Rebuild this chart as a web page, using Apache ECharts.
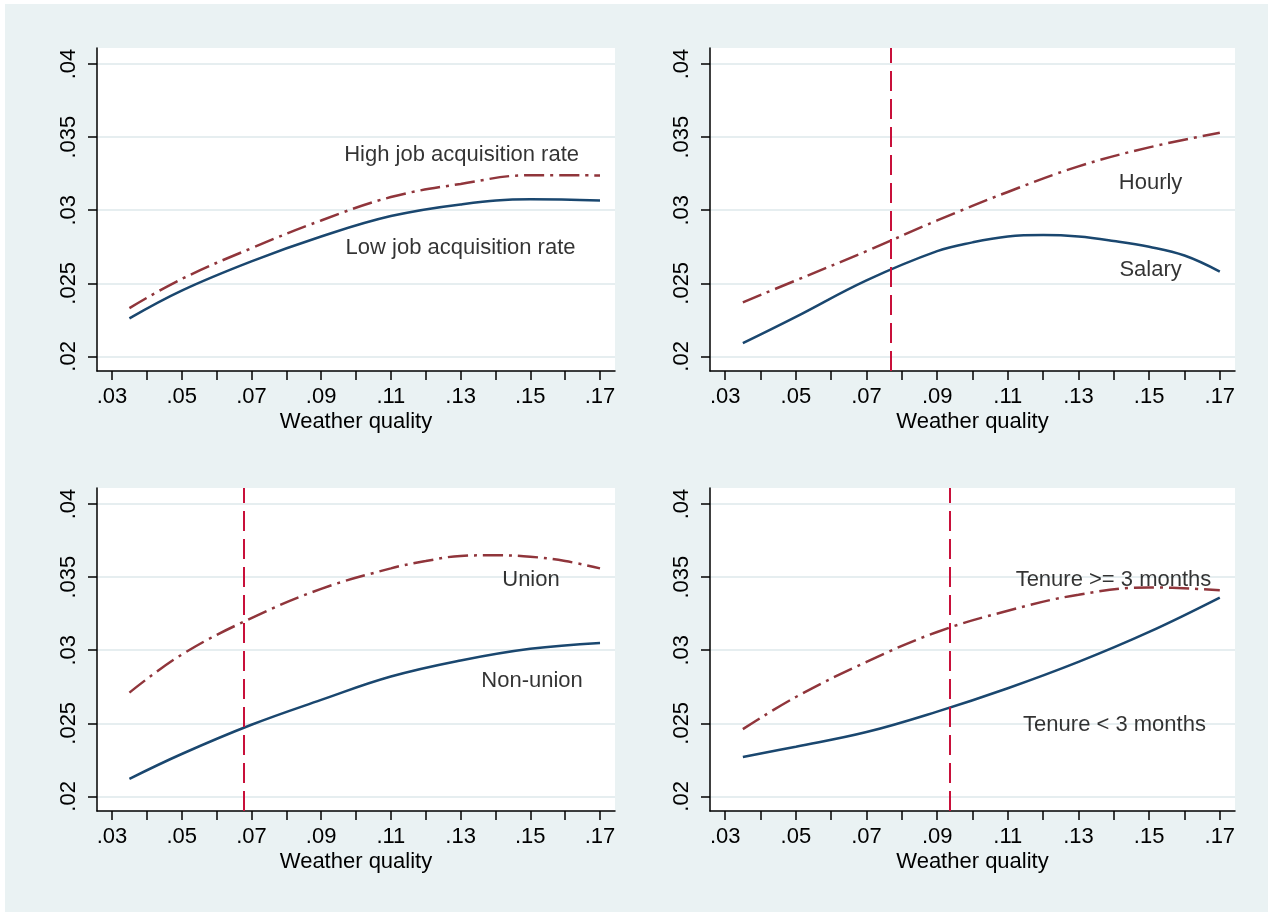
<!DOCTYPE html>
<html>
<head>
<meta charset="utf-8">
<script src="https://cdn.jsdelivr.net/npm/echarts@6/dist/echarts.min.js"></script>
<style>
  html, body { margin: 0; padding: 0; background: #fff; }
  #chart { position: absolute; left: 5px; top: 4px; width: 1263px; height: 908px; }
</style>
</head>
<body>
<div id="chart"></div>
<script>
// x positions where most fitted curves were read
const xVals = [0.035, 0.05, 0.07, 0.09, 0.11, 0.13, 0.15, 0.17];
// finer x positions around the peaks
const salaryX = [0.035, 0.05, 0.07, 0.09, 0.10, 0.11, 0.12, 0.13, 0.14, 0.15, 0.16, 0.17];
const unionX = [0.035, 0.05, 0.07, 0.09, 0.11, 0.12, 0.13, 0.14, 0.15, 0.16, 0.17];

// panel 1: job acquisition rate
const highRate = [0.0233, 0.0253, 0.0274, 0.0293, 0.0309, 0.0318, 0.0324, 0.03238];
const lowRate = [0.0226, 0.0245, 0.0265, 0.0282, 0.0296, 0.0304, 0.03075, 0.03066];
// panel 2: hourly vs salary
const hourly = [0.0237, 0.0252, 0.0272, 0.0293, 0.03125, 0.0330, 0.0343, 0.0353];
const salary = [0.0209, 0.0227, 0.0252, 0.0272, 0.0278, 0.0282, 0.0283, 0.0282, 0.0279, 0.0275, 0.0269, 0.0258];
// panel 3: union vs non-union
const union = [0.0271, 0.0297, 0.0322, 0.0342, 0.0356, 0.0361, 0.03645, 0.0365, 0.0364, 0.0361, 0.0356];
const nonUnion = [0.0212, 0.0229, 0.0249, 0.0266, 0.0282, 0.0293, 0.0301, 0.0305];
// panel 4: tenure
const tenureLong = [0.0246, 0.0268, 0.0292, 0.03125, 0.0327, 0.0338, 0.0343, 0.0341];
const tenureShort = [0.0227, 0.0234, 0.0244, 0.0258, 0.0274, 0.0292, 0.03125, 0.0336];

// vertical reference lines (null = none)
const refLines = [null, 0.0769, 0.0679, 0.0935];

// axis ticks
const xTicks = [0.03, 0.04, 0.05, 0.06, 0.07, 0.08, 0.09, 0.10, 0.11, 0.12, 0.13, 0.14, 0.15, 0.16, 0.17];
const xTickLabels = [0.03, 0.05, 0.07, 0.09, 0.11, 0.13, 0.15, 0.17];
const yTicks = [0.02, 0.025, 0.03, 0.035, 0.04];

// text labels: [x, y, text]
const labels1 = [[0.1303, 0.0338, 'High job acquisition rate'], [0.1300, 0.0274, 'Low job acquisition rate']];
const labels2 = [[0.1504, 0.0319, 'Hourly'], [0.1504, 0.0259, 'Salary']];
const labels3 = [[0.1502, 0.0348, 'Union'], [0.1505, 0.0279, 'Non-union']];
const labels4 = [[0.1399, 0.0348, 'Tenure >= 3 months'], [0.1402, 0.0249, 'Tenure < 3 months']];

const upperSeries = [[xVals, highRate], [xVals, hourly], [unionX, union], [xVals, tenureLong]];
const lowerSeries = [[xVals, lowRate], [salaryX, salary], [xVals, nonUnion], [xVals, tenureShort]];
const panelLabels = [labels1, labels2, labels3, labels4];

const font = '"Liberation Sans", Arial, sans-serif';
const navy = '#1A476F';
const maroon = '#90353B';
const refRed = '#C8103A';

const gridPos = [
  { left: 92, top: 44, width: 518, height: 323 },
  { left: 705, top: 44, width: 525, height: 323 },
  { left: 92, top: 484, width: 518, height: 323 },
  { left: 705, top: 484, width: 525, height: 323 }
];

function trimZero(v, d) {
  return String(+v.toFixed(d)).replace(/^0/, '');
}

function pairs(xs, ys) {
  return xs.map(function (x, k) { return [x, ys[k]]; });
}

let grids = [], xAxes = [], yAxes = [], series = [];
gridPos.forEach(function (g, i) {
  grids.push(Object.assign({ show: true, backgroundColor: '#fff', borderWidth: 0 }, g));
  xAxes.push({
    type: 'value', gridIndex: i, min: 0.0257, max: 0.1743,
    axisLine: { show: true, onZero: false, lineStyle: { color: '#000', width: 1.5 } },
    axisTick: { show: true, length: 9, customValues: xTicks, lineStyle: { color: '#000', width: 1.5 } },
    axisLabel: {
      customValues: xTickLabels, color: '#000', fontSize: 22, fontFamily: font, margin: 15,
      formatter: function (v) { return trimZero(v, 2); }
    },
    splitLine: { show: false },
    name: 'Weather quality', nameLocation: 'middle', nameGap: 40,
    nameTextStyle: { color: '#000', fontSize: 22, fontFamily: font }
  });
  yAxes.push({
    type: 'value', gridIndex: i, min: 0.019, max: 0.0411,
    axisLine: { show: true, onZero: false, lineStyle: { color: '#000', width: 1.5 } },
    axisTick: { show: true, length: 9, customValues: yTicks, lineStyle: { color: '#000', width: 1.5 } },
    axisLabel: {
      customValues: yTicks, rotate: 90, color: '#000', fontSize: 22, fontFamily: font, margin: 17,
      formatter: function (v) { return trimZero(v, 3); }
    },
    splitLine: { show: true, lineStyle: { color: '#E6EEF0', width: 2 } }
  });

  let upper = {
    type: 'line', xAxisIndex: i, yAxisIndex: i, smooth: 0.4, showSymbol: false, symbol: 'none',
    data: pairs(upperSeries[i][0], upperSeries[i][1]),
    lineStyle: { color: maroon, width: 2.5, type: [20, 6, 3, 6] },
    z: 3
  };
  if (refLines[i] != null) {
    upper.markLine = {
      silent: true, symbol: 'none', precision: 5, label: { show: false },
      lineStyle: { color: refRed, width: 2, type: [20, 8] },
      data: [{ xAxis: refLines[i] }]
    };
  }
  series.push(upper);
  series.push({
    type: 'line', xAxisIndex: i, yAxisIndex: i, smooth: 0.4, showSymbol: false, symbol: 'none',
    data: pairs(lowerSeries[i][0], lowerSeries[i][1]),
    lineStyle: { color: navy, width: 2.5, type: 'solid' },
    z: 3
  });
  series.push({
    type: 'scatter', xAxisIndex: i, yAxisIndex: i, symbolSize: 0, silent: true,
    data: panelLabels[i],
    label: {
      show: true, position: 'inside', color: '#000', fontSize: 22, fontFamily: font,
      formatter: function (p) { return p.data[2]; }
    },
    z: 5
  });
});

let chart = echarts.init(document.getElementById('chart'));
chart.setOption({
  animation: false,
  backgroundColor: '#EAF2F3',
  grid: grids,
  xAxis: xAxes,
  yAxis: yAxes,
  series: series
});
</script>
</body>
</html>
